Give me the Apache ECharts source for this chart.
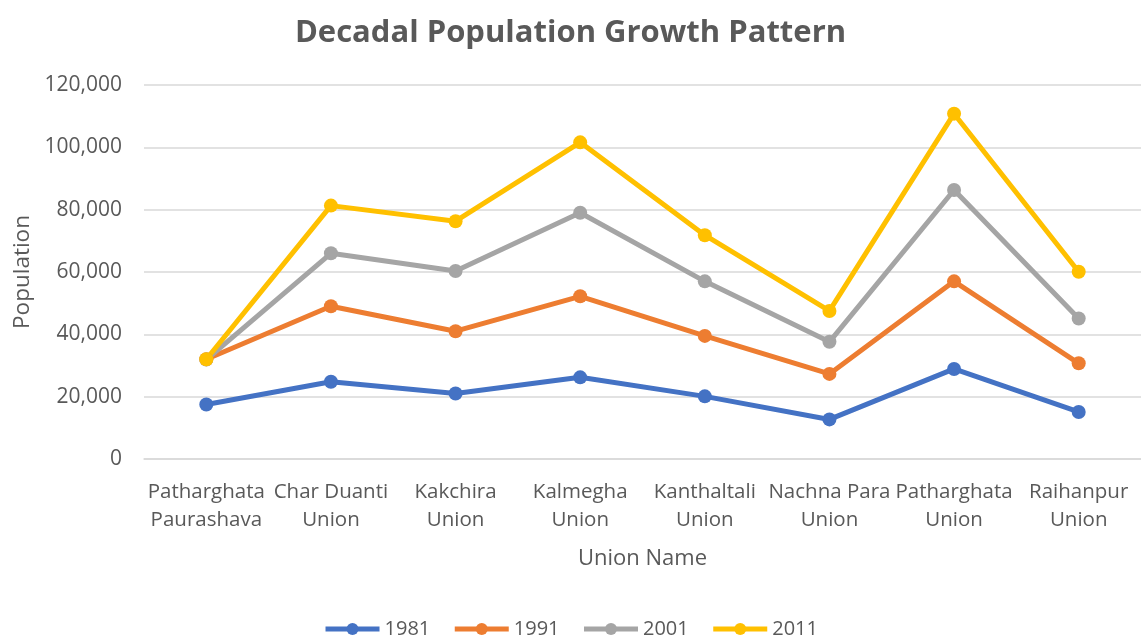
<!DOCTYPE html>
<html>
<head>
<meta charset="utf-8">
<script src="https://cdn.jsdelivr.net/npm/echarts@6/dist/echarts.min.js"></script>
<style>
  html, body { margin: 0; padding: 0; background: #fff; }
  #chart { width: 1141px; height: 639px; }
</style>
</head>
<body>
<div id="chart"></div>
<script>
// Union names (two-line axis labels)
const unions = [
  'Patharghata\nPaurashava',
  'Char Duanti\nUnion',
  'Kakchira\nUnion',
  'Kalmegha\nUnion',
  'Kanthaltali\nUnion',
  'Nachna Para\nUnion',
  'Patharghata\nUnion',
  'Raihanpur\nUnion'
];

// Census population per union
const pop1981 = [17500, 24800, 21000, 26200, 20100, 12700, 28900, 15100];
const pop1991 = [32000, 49000, 41000, 52200, 39500, 27300, 57000, 30700];
const pop2001 = [31900, 66000, 60300, 79000, 57000, 37600, 86300, 45100];
const pop2011 = [32000, 81300, 76300, 101600, 71800, 47500, 110800, 60100];

const years = ['1981', '1991', '2001', '2011'];
const colors = ['#4472C4', '#ED7D31', '#A5A5A5', '#FFC000'];
const values = [pop1981, pop1991, pop2001, pop2011];

const FONT = '"Open Sans", sans-serif';
const TEXT = '#595959';

const chart = echarts.init(document.getElementById('chart'));
chart.setOption({
  animation: false,
  textStyle: { fontFamily: FONT },
  title: {
    text: 'Decadal Population Growth Pattern',
    left: 'center',
    top: 13,
    textStyle: { fontFamily: FONT, fontSize: 31, fontWeight: 'bold', color: TEXT }
  },
  legend: {
    top: 614,
    left: 'center',
    itemWidth: 54,
    itemHeight: 15,
    itemGap: 22,
    lineStyle: { width: 5 },
    textStyle: { fontFamily: FONT, fontSize: 20, color: TEXT },
    data: years
  },
  grid: { left: 144, right: -2, top: 85, bottom: 180 },
  xAxis: {
    type: 'category',
    data: unions,
    boundaryGap: true,
    name: 'Union Name',
    nameLocation: 'middle',
    nameGap: 89,
    nameTextStyle: { fontFamily: FONT, fontSize: 22, color: TEXT },
    axisLine: { lineStyle: { color: '#D9D9D9', width: 1.5 } },
    axisTick: { show: false },
    axisLabel: { fontFamily: FONT, fontSize: 20.5, color: TEXT, lineHeight: 28, margin: 19, interval: 0 }
  },
  yAxis: {
    type: 'value',
    min: 0,
    max: 120000,
    interval: 20000,
    name: 'Population',
    nameLocation: 'middle',
    nameGap: 110,
    nameTextStyle: { fontFamily: FONT, fontSize: 22.5, color: TEXT },
    axisLine: { show: false },
    axisTick: { show: false },
    axisLabel: {
      fontFamily: FONT, fontSize: 21, color: TEXT, margin: 22,
      formatter: v => v.toLocaleString('en-US')
    },
    splitLine: { lineStyle: { color: '#D9D9D9', width: 1.5 } }
  },
  series: years.map((y, i) => ({
    name: y,
    type: 'line',
    data: values[i],
    symbol: 'circle',
    symbolSize: 14,
    lineStyle: { width: 5, color: colors[i] },
    itemStyle: { color: colors[i] }
  }))
});
</script>
</body>
</html>
